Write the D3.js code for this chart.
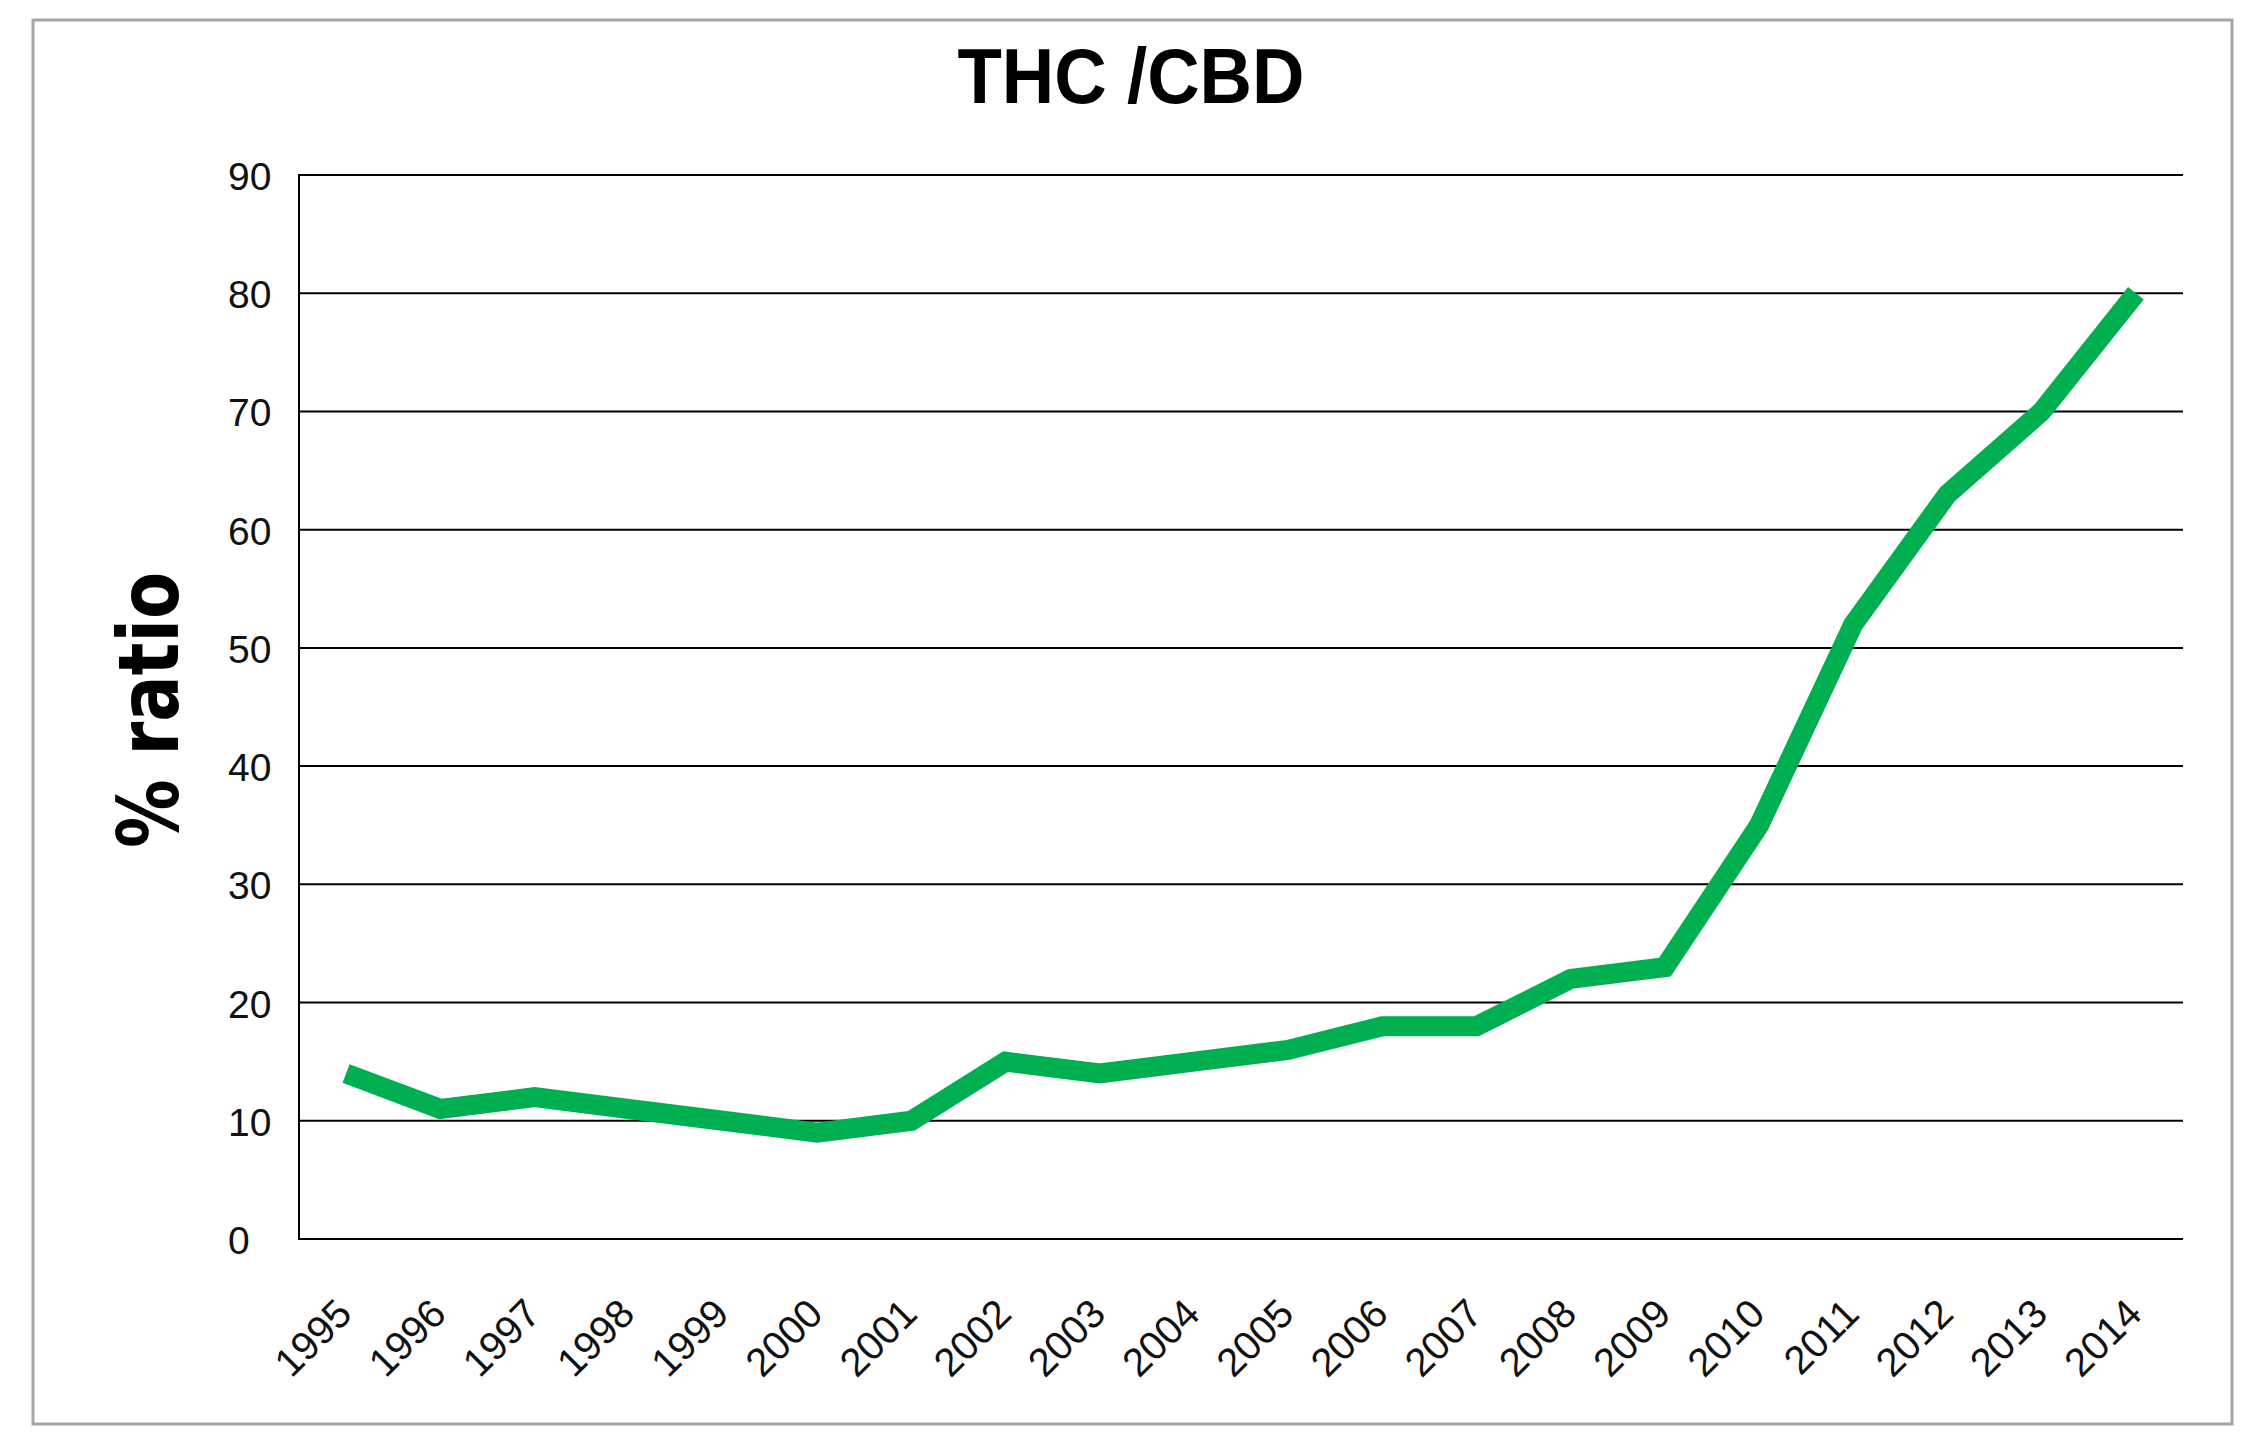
<!DOCTYPE html>
<html>
<head>
<meta charset="utf-8">
<script src="https://cdn.jsdelivr.net/npm/d3@7"></script>
<style>
  html, body { margin: 0; padding: 0; background: #fff; }
  svg { display: block; }
</style>
</head>
<body>
<svg id="chart" width="2262" height="1455"></svg>
<script>
// chart data
const years = ['1995', '1996', '1997', '1998', '1999', '2000', '2001', '2002', '2003', '2004',
               '2005', '2006', '2007', '2008', '2009', '2010', '2011', '2012', '2013', '2014'];
const ratio = [14, 11, 12, 11, 10, 9, 10, 15, 14, 15, 16, 18, 18, 22, 23, 35, 52, 63, 70, 80];
const yTicks = [0, 10, 20, 30, 40, 50, 60, 70, 80, 90];
const chartTitle = 'THC /CBD';
const yTitle = '% ratio';

function drawChart() {
  const svg = d3.select('#chart');
  const left = 299, right = 2183, top = 175, bottom = 1239;

  // outer frame
  svg.append('rect')
    .attr('x', 33).attr('y', 20)
    .attr('width', 2199).attr('height', 1404)
    .attr('fill', 'none')
    .attr('stroke', '#a6a6a6')
    .attr('stroke-width', 3);

  const x = d3.scaleBand().domain(years).range([left, right]);
  const y = d3.scaleLinear().domain([0, 90]).range([bottom, top]);

  // horizontal gridlines
  svg.append('g')
    .selectAll('line')
    .data(yTicks)
    .enter()
    .append('line')
    .attr('x1', left).attr('x2', right)
    .attr('y1', d => y(d)).attr('y2', d => y(d))
    .attr('stroke', '#000')
    .attr('stroke-width', 2);

  // left axis line
  svg.append('line')
    .attr('x1', left).attr('x2', left)
    .attr('y1', y(90) - 1).attr('y2', y(0) + 1)
    .attr('stroke', '#000')
    .attr('stroke-width', 2);

  // y tick labels (left aligned like the original)
  svg.append('g')
    .selectAll('text')
    .data(yTicks)
    .enter()
    .append('text')
    .attr('x', 228)
    .attr('y', d => y(d) + 15)
    .attr('font-family', 'Liberation Sans, Arial, sans-serif')
    .attr('font-size', 39)
    .attr('fill', '#111')
    .text(d => d);

  // x tick labels, rotated
  svg.append('g')
    .selectAll('text')
    .data(years)
    .enter()
    .append('text')
    .attr('transform', d => `translate(${x(d) + x.bandwidth() / 2 + 8},1316) rotate(-45)`)
    .attr('text-anchor', 'end')
    .attr('font-family', 'Liberation Sans, Arial, sans-serif')
    .attr('font-size', 40)
    .attr('fill', '#111')
    .text(d => d);

  // the green line
  const line = d3.line()
    .x((d, i) => x(years[i]) + x.bandwidth() / 2)
    .y(d => y(d));

  svg.append('path')
    .datum(ratio)
    .attr('d', line)
    .attr('fill', 'none')
    .attr('stroke', '#00b050')
    .attr('stroke-width', 20)
    .attr('stroke-linejoin', 'miter')
    .attr('stroke-linecap', 'butt');

  // title
  svg.append('text')
    .attr('x', 1131)
    .attr('y', 103)
    .attr('text-anchor', 'middle')
    .attr('font-family', 'Liberation Sans, Arial, sans-serif')
    .attr('font-weight', 'bold')
    .attr('font-size', 77)
    .attr('textLength', 347)
    .attr('lengthAdjust', 'spacingAndGlyphs')
    .attr('fill', '#000')
    .text(chartTitle);

  // y axis title
  svg.append('text')
    .attr('transform', 'translate(178,710) rotate(-90)')
    .attr('text-anchor', 'middle')
    .attr('font-family', 'DejaVu Sans, sans-serif')
    .attr('font-weight', 'bold')
    .attr('font-size', 84)
    .attr('textLength', 276)
    .attr('lengthAdjust', 'spacingAndGlyphs')
    .attr('fill', '#000')
    .text(yTitle);
}

document.addEventListener('DOMContentLoaded', drawChart);
</script>
</body>
</html>
